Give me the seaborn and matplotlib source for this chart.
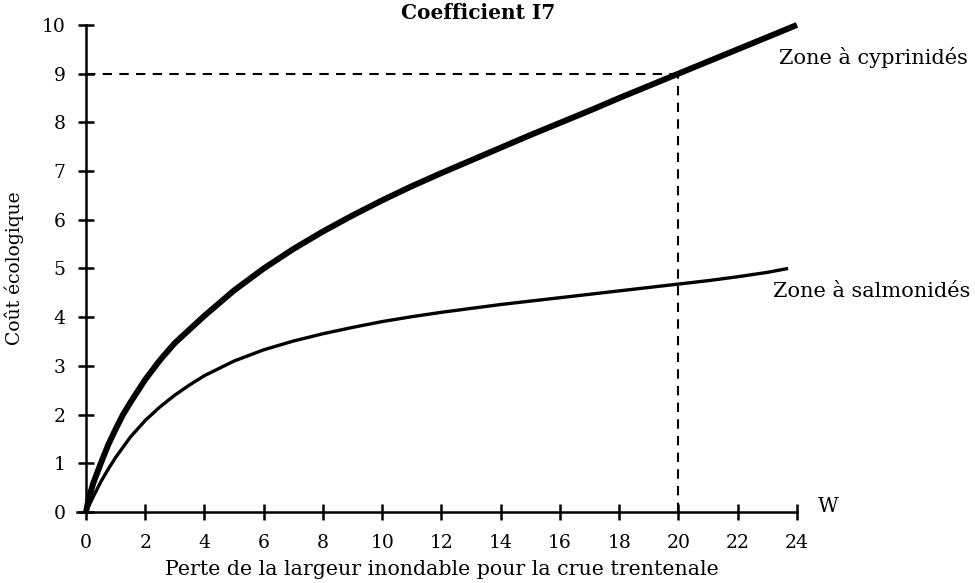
import matplotlib
matplotlib.use("Agg")
import matplotlib.pyplot as plt
import seaborn as sns
import pandas as pd

# Loss of floodable width (W) and ecological cost for each fish zone
w_cyprinides = [0, 0.1, 0.25, 0.5, 0.75, 1, 1.25, 1.5, 2, 2.5, 3, 4, 5, 6,
                7, 8, 9, 10, 11, 12, 13, 14, 15, 16, 17, 18, 19, 20, 21, 22,
                23, 24]
cout_cyprinides = [0, 0.3, 0.6, 1.0, 1.38, 1.7, 2.0, 2.25, 2.72, 3.12, 3.47,
                   4.03, 4.55, 5.0, 5.4, 5.76, 6.09, 6.4, 6.69, 6.96, 7.22,
                   7.48, 7.74, 7.99, 8.24, 8.5, 8.75, 9.0, 9.25, 9.5, 9.75,
                   10.0]

w_salmonides = [0, 0.25, 0.5, 0.75, 1, 1.5, 2, 2.5, 3, 3.5, 4, 5, 6, 7, 8,
                9, 10, 11, 12, 13, 14, 15, 16, 17, 18, 19, 20, 21, 22, 23,
                23.7]
cout_salmonides = [0, 0.32, 0.62, 0.88, 1.12, 1.54, 1.88, 2.16, 2.4, 2.61,
                   2.8, 3.1, 3.33, 3.51, 3.66, 3.79, 3.91, 4.01, 4.1, 4.18,
                   4.26, 4.33, 4.4, 4.47, 4.54, 4.61, 4.68, 4.75, 4.83, 4.92,
                   5.0]

# Reading guide: W = 20 gives a cost of 9 for the cyprinid zone
w_repere = 20
cout_repere = 9

x_ticks = list(range(0, 25, 2))
y_ticks = list(range(0, 11))

sns.set_style("white")
plt.rcParams["font.family"] = ["DejaVu Serif"]
plt.rcParams["text.color"] = "black"
plt.rcParams["axes.labelcolor"] = "black"

fig = plt.figure(figsize=(9.75, 5.83), dpi=100)
ax = fig.add_axes([0.07605, 0.1051, 0.7535, 0.8688])

df_c = pd.DataFrame({"W": w_cyprinides, "cout": cout_cyprinides})
df_s = pd.DataFrame({"W": w_salmonides, "cout": cout_salmonides})

sns.lineplot(data=df_c, x="W", y="cout", ax=ax, color="black", lw=4.3,
             solid_capstyle="butt", solid_joinstyle="round", sort=False,
             estimator=None)
sns.lineplot(data=df_s, x="W", y="cout", ax=ax, color="black", lw=2.4,
             solid_capstyle="butt", solid_joinstyle="round", sort=False,
             estimator=None)

dash = (0, (4.5, 3.5))
ax.plot([0, w_repere], [cout_repere, cout_repere], color="black", lw=1.5,
        linestyle=dash)
ax.plot([w_repere, w_repere], [0, cout_repere], color="black", lw=1.5,
        linestyle=dash)

ax.set_xlim(-0.4, 24.4)
ax.set_ylim(-0.2, 10.2)

for side in ("top", "right"):
    ax.spines[side].set_visible(False)
for side in ("left", "bottom"):
    ax.spines[side].set_linewidth(1.8)
    ax.spines[side].set_color("black")
    ax.spines[side].set_position(("data", 0))
ax.spines["left"].set_bounds(0, 10)
ax.spines["bottom"].set_bounds(-0.3, 24)

ax.set_xticks(x_ticks)
ax.set_yticks(y_ticks)
ax.tick_params(axis="both", direction="inout", length=11, width=1.8,
               color="black", labelsize=13.5, labelcolor="black",
               bottom=True, left=True)
ax.tick_params(axis="x", pad=10)
ax.tick_params(axis="y", pad=9)

ax.set_xlabel("Perte de la largeur inondable pour la crue trentenale",
              fontsize=14.8, labelpad=6)
ax.set_ylabel("Coût écologique", fontsize=13.5)
ax.yaxis.set_label_coords(-0.0685, 0.5)

ax.text(13.23, 10.25, "Coefficient I7", fontsize=14.5, fontweight="bold",
        ha="center", va="center")

ax.text(24.7, 0.12, "W", fontsize=14.5, ha="left", va="center")
ax.text(23.39, 9.34, "Zone à cyprinidés", fontsize=15, ha="left",
        va="center")
ax.text(23.19, 4.52, "Zone à salmonidés", fontsize=15, ha="left",
        va="center")

fig.savefig("out.png", dpi=100)
